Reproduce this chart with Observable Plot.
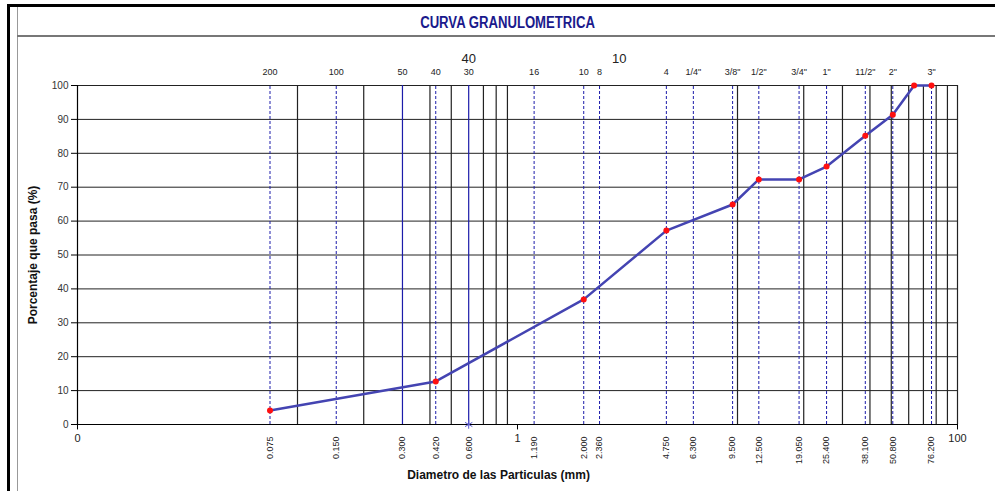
<!DOCTYPE html>
<html>
<head>
<meta charset="utf-8">
<script src="https://cdn.jsdelivr.net/npm/d3@7"></script>
<script src="https://cdn.jsdelivr.net/npm/@observablehq/plot@0.6"></script>
<style>
  html, body { margin: 0; padding: 0; background: #fff; }
  #wrap { position: relative; width: 995px; height: 491px; overflow: hidden; font-family: "Liberation Sans", Arial, sans-serif; }
  .deco { position: absolute; }
  #title { position: absolute; left: 0; width: 1016px; top: 14px; text-align: center; }
  #title span { display: inline-block; transform: scaleX(0.82);
           font-family: "Liberation Sans", Arial, sans-serif;
           font-weight: bold; font-size: 16px; color: #1a1a8c; }
  #chart { position: absolute; left: 0; top: 0; }
</style>
</head>
<body>
<div id="wrap">
  <div class="deco" style="left:7px; right:0; top:4px; height:3px; background:#000;"></div>
  <div class="deco" style="left:7px; width:3px; top:4px; bottom:0; background:#000;"></div>
  <div class="deco" style="left:17px; width:1px; top:7px; bottom:0; background:#999;"></div>
  <div class="deco" style="left:17px; right:0; top:35px; height:2px; background:#777;"></div>
  <div id="title"><span>CURVA GRANULOMETRICA</span></div>
  <div id="chart"></div>
</div>
<script>
// Sieve openings (mm), their labels, and sieve names
const sieveMM = [0.075, 0.150, 0.300, 0.425, 0.600, 1.190, 2.000, 2.360, 4.750, 6.300, 9.500, 12.500, 19.050, 25.400, 38.100, 50.800, 76.200];
const sieveMMLabels = ["0.075", "0.150", "0.300", "0.420", "0.600", "1.190", "2.000", "2.360", "4.750", "6.300", "9.500", "12.500", "19.050", "25.400", "38.100", "50.800", "76.200"];
const sieveNames = ["200", "100", "50", "40", "30", "16", "10", "8", "4", "1/4\"", "3/8\"", "1/2\"", "3/4\"", "1\"", "11/2\"", "2\"", "3\""];

// Grading curve: diameter (mm) and percent passing
const curveMM = [0.075, 0.425, 2.000, 4.750, 9.500, 12.500, 19.050, 25.400, 38.100, 50.800, 63.500, 76.200];
const curvePass = [4.1, 12.7, 36.9, 57.2, 64.9, 72.3, 72.3, 76.1, 85.2, 91.4, 100, 100];

// Axis ticks and gridlines
const yTicks = [0, 10, 20, 30, 40, 50, 60, 70, 80, 90, 100];
const xMainTicks = [0.01, 1, 100];
const xMainTickLabels = ["0", "1", "100"];
const gridX = [0.1, 0.2, 0.3, 0.4, 0.5, 0.6, 0.7, 0.8, 0.9, 10, 20, 30, 40, 50, 60, 70, 80, 90, 100];
const blueGridX = [0.3, 0.6];
const topBigLabels = ["40", "10"];
const topBigMM = [0.6, 2.9];

const sieves = sieveMM.map((mm, i) => ({mm, label: sieveMMLabels[i], name: sieveNames[i]}));
const curve = curveMM.map((mm, i) => ({mm, pass: curvePass[i]}));
const mainTicks = xMainTicks.map((v, i) => ({v, label: xMainTickLabels[i]}));
const bigTop = topBigMM.map((v, i) => ({v, label: topBigLabels[i]}));

const blue = "#1c1caa";
const gridColor = "#222";
const xMin = 0.01;
const tickOut = xMin * Math.pow(10, -6 / 219.5); // small outward tick length on the log axis

const chart = Plot.plot({
  width: 995,
  height: 491,
  marginLeft: 77,
  marginRight: 38,
  marginTop: 85,
  marginBottom: 67,
  style: {fontFamily: "'Liberation Sans', Arial, sans-serif", background: "transparent", overflow: "visible"},
  x: {type: "log", domain: [xMin, 100], axis: null},
  y: {domain: [0, 100], axis: null},
  marks: [
    // horizontal gridlines
    Plot.ruleY(yTicks.slice(1), {stroke: gridColor, strokeWidth: 1}),
    // vertical gridlines
    Plot.ruleX(gridX, {y1: 0, y2: 100, stroke: d => blueGridX.includes(d) ? blue : gridColor, strokeWidth: 1.2}),
    // sieve dashed lines
    Plot.ruleX(sieves.filter(d => !blueGridX.includes(d.mm)), {x: "mm", y1: 0, y2: 100, stroke: blue, strokeWidth: 1, strokeDasharray: "3,2"}),
    // axes lines
    Plot.ruleX([xMin], {y1: 0, y2: 100, stroke: "#000", strokeWidth: 1.2}),
    Plot.ruleY([0], {stroke: "#000", strokeWidth: 1.2}),
    // y ticks
    Plot.ruleY(yTicks, {x1: tickOut, x2: xMin, stroke: "#000"}),
    Plot.text(yTicks, {x: xMin, y: d => d, text: d => String(d), textAnchor: "end", dx: -9, fontSize: 10, fill: "#333"}),
    // y label
    Plot.text(["Porcentaje que pasa (%)"], {frameAnchor: "left", textAnchor: "middle", dx: -44, rotate: -90, fontWeight: "bold", fontSize: 12, fill: "#111"}),
    // x main ticks
    Plot.ruleX(xMainTicks, {y1: 0, y2: -1.6, stroke: "#000"}),
    Plot.text(mainTicks, {x: "v", y: 0, text: "label", dy: 14, fontSize: 11, fill: "#222"}),
    // sieve mm labels (rotated)
    Plot.text(sieves, {x: "mm", y: 0, text: "label", rotate: -90, textAnchor: "end", dy: 12, fontSize: 9, fill: "#222"}),
    // sieve names at top
    Plot.text(sieves, {x: "mm", y: 100, text: "name", dy: -13, fontSize: 9, fill: "#222"}),
    Plot.text(bigTop, {x: "v", y: 100, text: "label", dy: -27, fontSize: 13, fill: "#222"}),
    // asterisk marker
    Plot.dot([0.6], {x: d => d, y: 0, symbol: "asterisk", r: 4, stroke: "#5a5ad0", strokeWidth: 1}),
    // x label
    Plot.text(["Diametro de las Particulas (mm)"], {x: 0.82, frameAnchor: "bottom", dy: 54, fontWeight: "bold", fontSize: 12, fill: "#111"}),
    // curve
    Plot.line(curve, {x: "mm", y: "pass", stroke: "#4444b2", strokeWidth: 2.5}),
    Plot.dot(curve, {x: "mm", y: "pass", r: 3, fill: "#ff1010", stroke: "none"})
  ]
});
document.getElementById("chart").appendChild(chart);
</script>
</body>
</html>
